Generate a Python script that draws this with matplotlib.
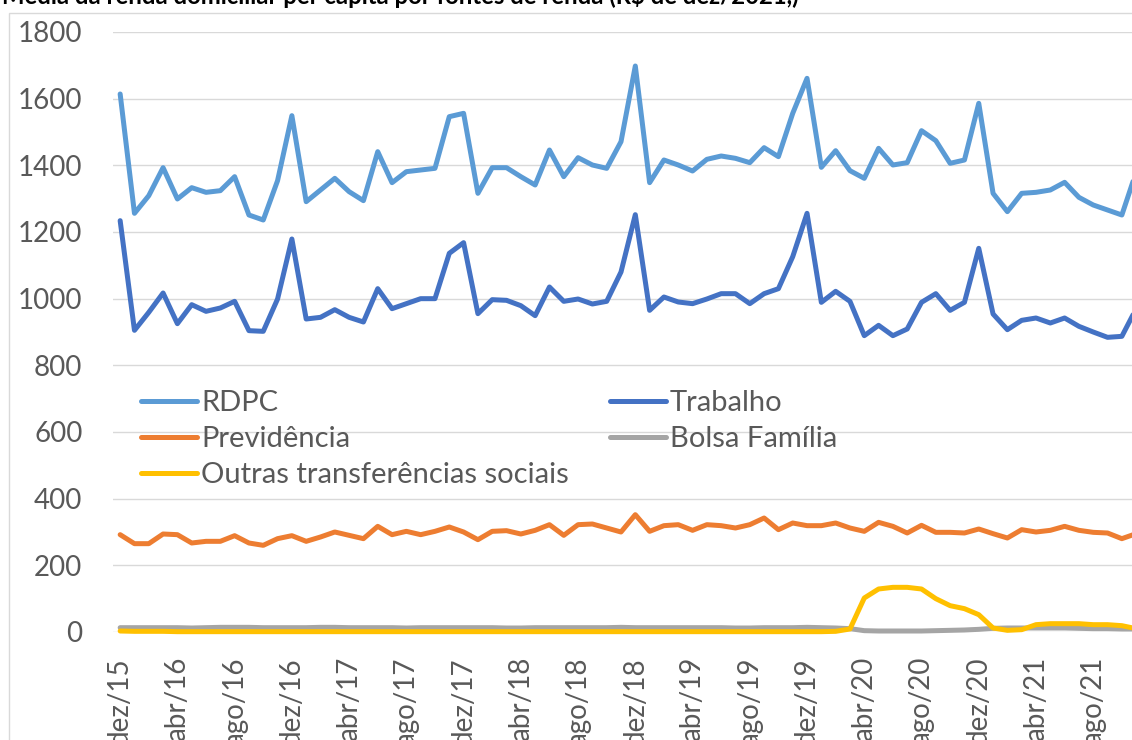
import matplotlib
matplotlib.use("Agg")
import matplotlib.pyplot as plt
from matplotlib.patches import Rectangle

# Media da renda domiciliar per capita por fontes (dez/15 .. nov/21, mensal)
tick_labels = ['dez/15', 'abr/16', 'ago/16', 'dez/16', 'abr/17', 'ago/17',
               'dez/17', 'abr/18', 'ago/18', 'dez/18', 'abr/19', 'ago/19',
               'dez/19', 'abr/20', 'ago/20', 'dez/20', 'abr/21', 'ago/21']

rdpc = [1614, 1256, 1309, 1393, 1299, 1333, 1319, 1324, 1366, 1251, 1236, 1354,
        1549, 1291, 1326, 1361, 1321, 1294, 1441, 1348, 1381, 1386, 1391, 1546,
        1556, 1316, 1393, 1393, 1366, 1341, 1446, 1366, 1423, 1401, 1391, 1471,
        1698, 1348, 1416, 1401, 1383, 1418, 1428, 1421, 1408, 1453, 1426, 1556,
        1661, 1394, 1444, 1384, 1361, 1451, 1401, 1408, 1504, 1474, 1406, 1416,
        1586, 1316, 1261, 1316, 1319, 1326, 1349, 1304, 1281, 1266, 1251, 1380]

trabalho = [1234, 905, 959, 1017, 925, 982, 962, 972, 992, 904, 902, 999,
            1179, 939, 944, 967, 944, 930, 1030, 970, 985, 1000, 1000, 1136,
            1168, 955, 997, 995, 979, 949, 1035, 992, 999, 984, 992, 1080,
            1252, 965, 1005, 990, 985, 999, 1015, 1015, 985, 1015, 1030, 1126,
            1256, 989, 1022, 992, 889, 920, 889, 909, 989, 1015, 965, 989,
            1151, 954, 907, 935, 942, 927, 942, 917, 900, 884, 887, 970]

previdencia = [292, 265, 265, 294, 292, 267, 272, 272, 289, 267, 260, 280,
               289, 272, 285, 300, 290, 280, 317, 292, 302, 292, 302, 315,
               300, 277, 302, 304, 294, 305, 322, 290, 322, 324, 312, 300,
               352, 302, 319, 322, 305, 322, 319, 312, 322, 342, 307, 327,
               319, 319, 327, 312, 302, 329, 317, 297, 320, 299, 299, 297,
               309, 295, 282, 307, 300, 305, 317, 305, 299, 297, 280, 295]

bolsa_familia = [13, 13, 13, 13, 13, 12, 13, 14, 14, 14, 13, 13,
                 13, 13, 14, 14, 13, 13, 13, 13, 12, 13, 13, 13,
                 13, 13, 13, 12, 12, 13, 13, 13, 13, 13, 13, 14,
                 13, 13, 13, 13, 13, 13, 13, 12, 12, 13, 13, 13,
                 14, 13, 12, 10, 4, 3, 3, 3, 3, 4, 5, 6,
                 8, 11, 12, 12, 12, 12, 12, 11, 10, 10, 9, 9]

outras = [3, 2, 2, 2, 1, 1, 1, 1, 1, 1, 1, 1,
          1, 1, 1, 1, 1, 1, 1, 1, 1, 1, 1, 1,
          1, 1, 1, 1, 1, 1, 1, 1, 1, 1, 1, 1,
          1, 1, 1, 1, 1, 1, 1, 1, 1, 1, 1, 1,
          1, 1, 2, 9, 102, 129, 134, 134, 129, 100, 79, 70,
          52, 12, 5, 7, 22, 25, 25, 25, 22, 22, 19, 10]

series = [
    ('RDPC', rdpc, '#5B9BD5'),
    ('Trabalho', trabalho, '#4472C4'),
    ('Previdência', previdencia, '#ED7D31'),
    ('Bolsa Família', bolsa_familia, '#A5A5A5'),
    ('Outras transferências sociais', outras, '#FFC000'),
]

plt.rcParams['font.family'] = ['Lato', 'DejaVu Sans']

W, H = 1132, 740
fig = plt.figure(figsize=(W / 100, H / 100), dpi=100)

# chart frame (cut by the image edges)
fig.patches.append(Rectangle((9 / W, -0.1), 1.2, 1 - 13 / H + 0.1,
                             transform=fig.transFigure, fill=False,
                             edgecolor='#D9D9D9', lw=1.0))

fig.text(2 / W, 1 - 4 / H,
         'Média da renda domiciliar per capita por fontes de renda (R$ de dez/2021,)',
         fontsize=17.2, fontweight='bold', color='black', va='baseline', ha='left')

left, bottom, top = 113, 632, 32
ax = fig.add_axes([left / W, 1 - bottom / H, 1 - left / W, (bottom - top) / H])
ax.set_facecolor('none')

step = 14.31
x = list(range(len(rdpc)))
lines = {}
for name, vals, col in series:
    ln, = ax.plot(x, vals, color=col, lw=3.6, solid_joinstyle='round',
                  solid_capstyle='round', clip_on=False, label=name)
    lines[name] = ln

ax.set_ylim(0, 1800)
ax.set_xlim(-0.5, -0.5 + (W - left) / step)
ax.set_yticks(range(0, 1801, 200))
ax.set_xticks(range(0, 4 * len(tick_labels), 4))
ax.set_xticklabels(tick_labels, rotation=90, va='top')
ax.tick_params(axis='both', length=0, labelsize=20, labelcolor='#595959')
ax.tick_params(axis='y', pad=22)
ax.tick_params(axis='x', pad=18)
ax.grid(axis='y', color='#D9D9D9', lw=1.0)
ax.set_axisbelow(True)
for s in ax.spines.values():
    s.set_visible(False)

order = ['RDPC', 'Previdência', 'Outras transferências sociais', 'Trabalho', 'Bolsa Família']
leg = ax.legend([lines[n] for n in order], order, ncol=2, frameon=False,
                loc='upper left', bbox_to_anchor=(141 / W, 1 - 390 / H),
                bbox_transform=fig.transFigure, fontsize=21,
                handlelength=1.92, handletextpad=0.14, columnspacing=1.4,
                labelspacing=0.35, borderaxespad=0, borderpad=0)
for t in leg.get_texts():
    t.set_color('#595959')

fig.savefig('out.png', dpi=100)
